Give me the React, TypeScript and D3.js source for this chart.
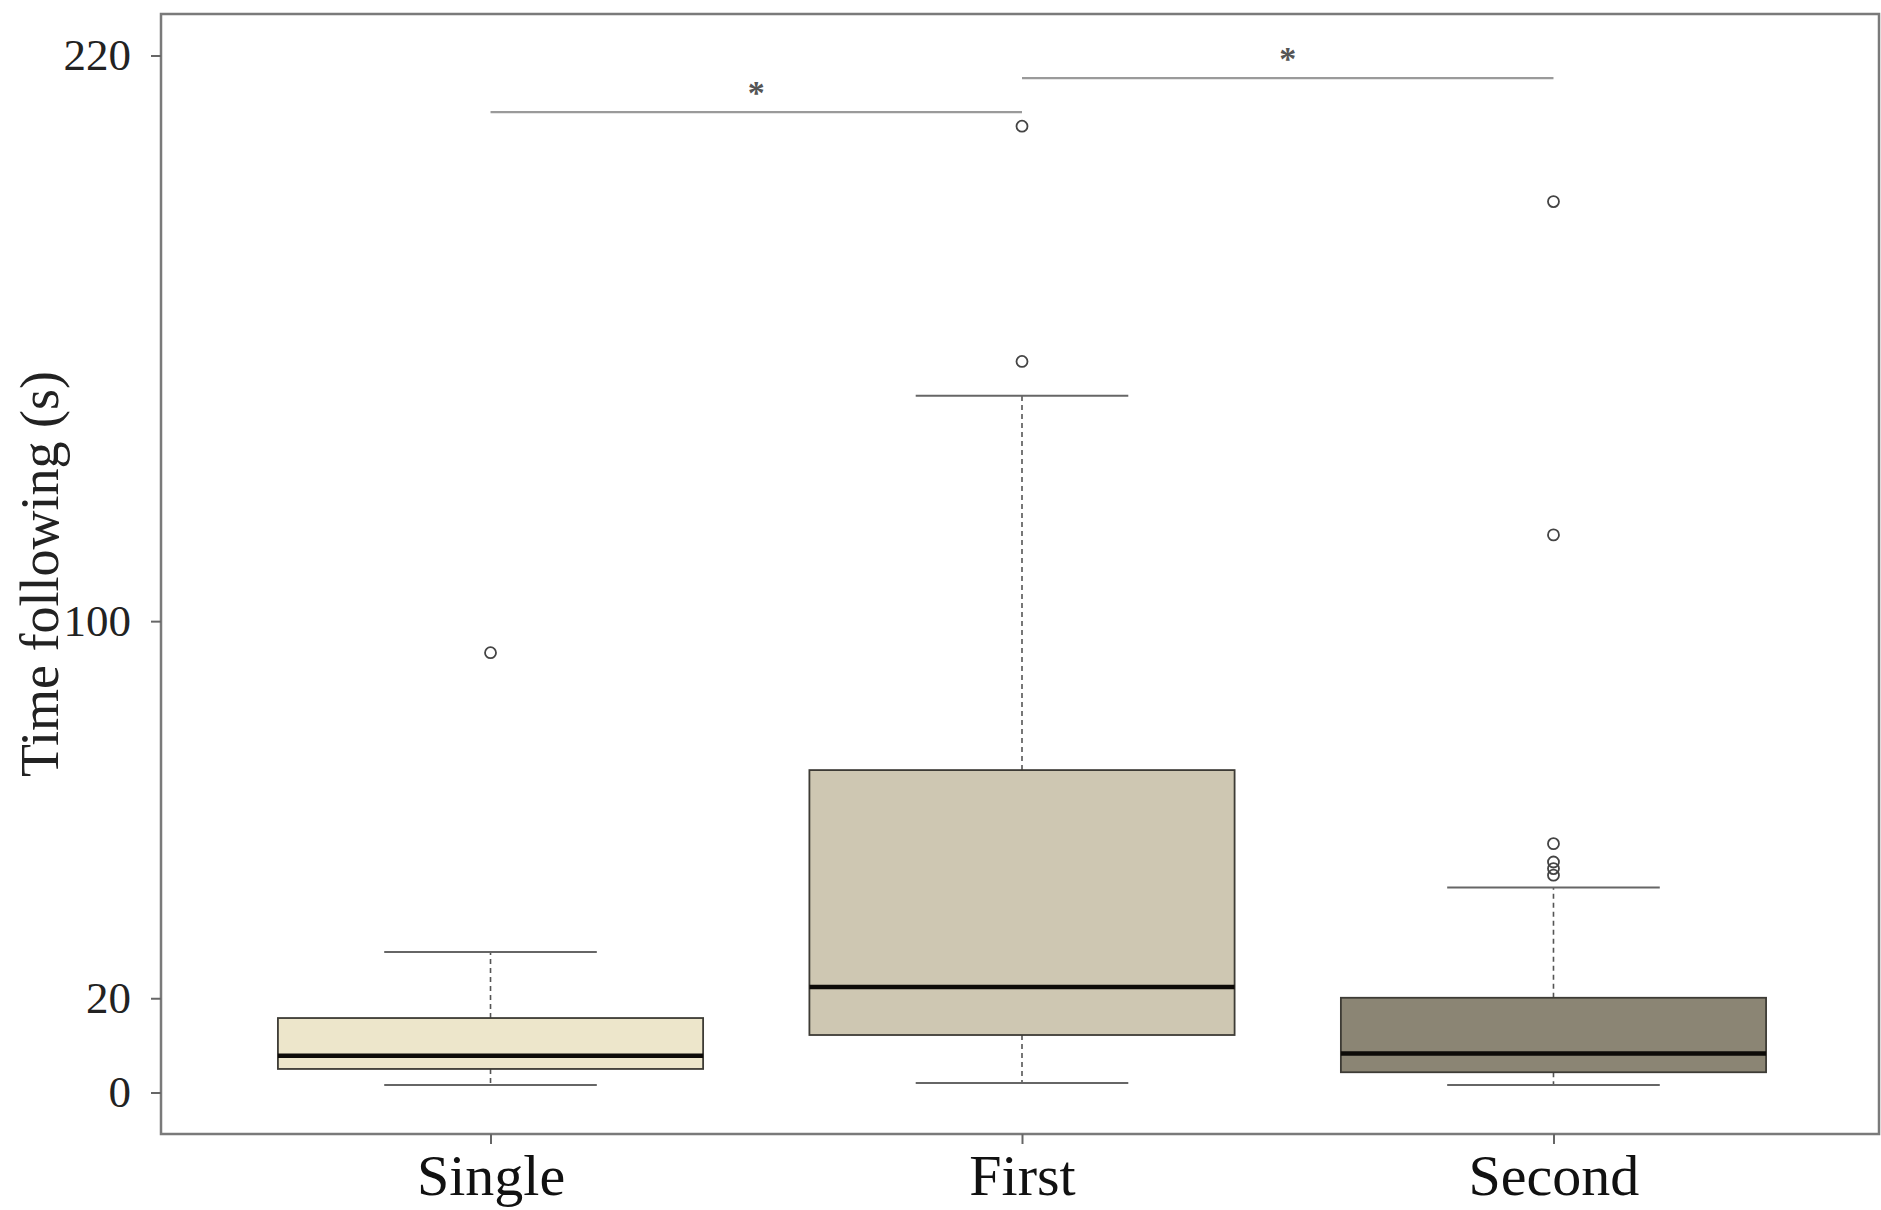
import React, { useEffect, useRef } from "react";
import * as d3 from "d3";

// groups and their box statistics (seconds)
const categories = ["Single", "First", "Second"];
const whiskerLow = [1.6, 2.0, 1.6];
const q1 = [5.0, 12.2, 4.3];
const medians = [7.8, 22.4, 8.3];
const q3 = [15.8, 68.4, 20.1];
const whiskerHigh = [29.8, 147.8, 43.5];
const outliers = [
  [93.3],
  [205.0, 155.1],
  [189.0, 118.3, 52.8, 48.9, 47.5, 46.1],
];
const fills = ["#ede6cb", "#cec7b2", "#8b8574"];

const yTicks = [0, 20, 100, 220];
const yLabel = "Time following (s)";

// significance brackets: from group, to group, height (s)
const sigFrom = [1, 2];
const sigTo = [2, 3];
const sigY = [208, 215.2];
const sigLabel = ["*", "*"];

function App() {
  const svgRef = useRef(null);

  useEffect(() => {
    const w = 1881;
    const h = 1210;
    const left = 161;
    const right = 1883;
    const frameRight = 1879;
    const top = 14;
    const bottom = 1134;

    const svg = d3
      .select(svgRef.current)
      .attr("width", w)
      .attr("height", h)
      .style("background-color", "#fff")
      .style("font-family", "'Liberation Serif', 'Times New Roman', serif");
    svg.selectAll("*").remove();

    // R style: xlim 0.5..3.5 and ylim 0..220, each padded 4%
    const xScale = d3.scaleLinear().domain([0.38, 3.62]).range([left, right]);
    const yScale = d3.scaleLinear().domain([-8.8, 228.8]).range([bottom, top]);
    const half = 0.4;

    const g = svg.append("g");

    categories.forEach((c, i) => {
      const x = i + 1;
      // dashed whiskers
      g.append("line")
        .attr("x1", xScale(x)).attr("x2", xScale(x))
        .attr("y1", yScale(q3[i])).attr("y2", yScale(whiskerHigh[i]))
        .attr("stroke", "#555").attr("stroke-width", 1.6)
        .attr("stroke-dasharray", "5,4");
      g.append("line")
        .attr("x1", xScale(x)).attr("x2", xScale(x))
        .attr("y1", yScale(q1[i])).attr("y2", yScale(whiskerLow[i]))
        .attr("stroke", "#555").attr("stroke-width", 1.6)
        .attr("stroke-dasharray", "5,4");
      // caps
      [whiskerLow[i], whiskerHigh[i]].forEach((v) => {
        g.append("line")
          .attr("x1", xScale(x - half / 2)).attr("x2", xScale(x + half / 2))
          .attr("y1", yScale(v)).attr("y2", yScale(v))
          .attr("stroke", "#666").attr("stroke-width", 2);
      });
      // box
      g.append("rect")
        .attr("x", xScale(x - half))
        .attr("y", yScale(q3[i]))
        .attr("width", xScale(x + half) - xScale(x - half))
        .attr("height", yScale(q1[i]) - yScale(q3[i]))
        .attr("fill", fills[i])
        .attr("stroke", "#3d3b35").attr("stroke-width", 1.8);
      // median
      g.append("line")
        .attr("x1", xScale(x - half)).attr("x2", xScale(x + half))
        .attr("y1", yScale(medians[i])).attr("y2", yScale(medians[i]))
        .attr("stroke", "#0d0b08").attr("stroke-width", 4.5);
      // outliers
      g.selectAll(null)
        .data(outliers[i])
        .join("circle")
        .attr("cx", xScale(x))
        .attr("cy", (v) => yScale(v))
        .attr("r", 5.5)
        .attr("fill", "none")
        .attr("stroke", "#444").attr("stroke-width", 1.8);
    });

    // significance brackets
    sigY.forEach((v, i) => {
      g.append("line")
        .attr("x1", xScale(sigFrom[i])).attr("x2", xScale(sigTo[i]))
        .attr("y1", yScale(v)).attr("y2", yScale(v))
        .attr("stroke", "#9a9a9a").attr("stroke-width", 2.2);
      g.append("text")
        .attr("x", xScale((sigFrom[i] + sigTo[i]) / 2))
        .attr("y", yScale(v) - 8)
        .attr("text-anchor", "middle")
        .attr("font-size", 34)
        .attr("font-weight", "bold")
        .attr("fill", "#555")
        .text(sigLabel[i]);
    });

    // frame
    svg.append("rect")
      .attr("x", left).attr("y", top)
      .attr("width", frameRight - left).attr("height", bottom - top)
      .attr("fill", "none")
      .attr("stroke", "#7a7a7a").attr("stroke-width", 2.5);

    // y axis
    const yAxis = d3.axisLeft(yScale).tickValues(yTicks).tickSize(10).tickPadding(20);
    svg.append("g")
      .attr("transform", `translate(${left}, 0)`)
      .call(yAxis)
      .call((a) => a.select(".domain").remove())
      .call((a) => a.selectAll("line").attr("stroke", "#666").attr("stroke-width", 2))
      .call((a) =>
        a.selectAll("text")
          .attr("font-size", 45)
          .attr("fill", "#222")
          .attr("font-family", "'Liberation Serif', serif")
      );

    // x axis
    const xAxis = d3
      .axisBottom(xScale)
      .tickValues([1, 2, 3])
      .tickFormat((d) => categories[d - 1])
      .tickSize(10)
      .tickPadding(10);
    svg.append("g")
      .attr("transform", `translate(0, ${bottom})`)
      .call(xAxis)
      .call((a) => a.select(".domain").remove())
      .call((a) => a.selectAll("line").attr("stroke", "#666").attr("stroke-width", 2))
      .call((a) =>
        a.selectAll("text")
          .attr("font-size", 58)
          .attr("fill", "#111")
          .attr("font-family", "'Liberation Serif', serif")
      );

    // y label
    svg.append("text")
      .attr("transform", `translate(58, ${(top + bottom) / 2}) rotate(-90)`)
      .attr("text-anchor", "middle")
      .attr("font-size", 54)
      .attr("fill", "#222")
      .text(yLabel);
  }, []);

  return (
    <>
      <style>{`body{margin:0}`}</style>
      <svg ref={svgRef} style={{ display: "block" }}></svg>
    </>
  );
}

export default App;
